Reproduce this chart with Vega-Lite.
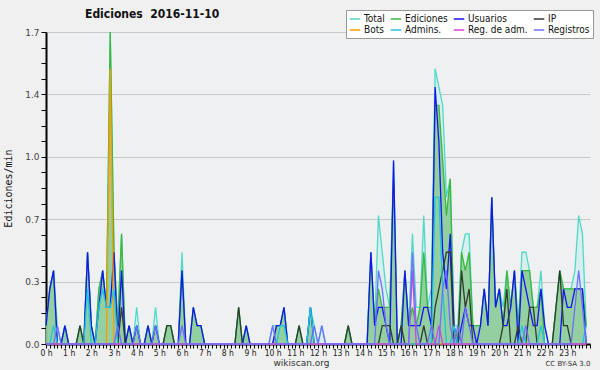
{
"$schema":"https://vega.github.io/schema/vega-lite/v6.json",
"width":544,"height":312,"autosize":"none",
"padding":{"left":46,"top":32,"right":10,"bottom":26},
"background":"#f0f0f0",
"config":{"view":{"fill":"#eef0f2","stroke":null},"font":"DejaVu Sans"},
"title":{"text":"Ediciones \u00a02016-11-10","anchor":"start","frame":"group","dx":39,"offset":-11,"fontSize":12,"fontWeight":"bold","color":"#111","font":"DejaVu Sans Condensed, DejaVu Sans"},
"data":{"values":[
{"m":0,"T":0.1,"E":0.1,"U":0.1,"I":0,"B":0,"A":0,"M":0,"R":0},
{"m":10,"T":0.3,"E":0.3,"U":0.3,"I":0,"B":0,"A":0,"M":0,"R":0},
{"m":20,"T":0.4,"E":0.4,"U":0.4,"I":0,"B":0,"A":0.1,"M":0,"R":0},
{"m":30,"T":0.1,"E":0,"U":0,"I":0,"B":0,"A":0,"M":0,"R":0.1},
{"m":40,"T":0,"E":0,"U":0,"I":0,"B":0,"A":0,"M":0,"R":0},
{"m":50,"T":0.1,"E":0.1,"U":0.1,"I":0,"B":0,"A":0,"M":0,"R":0},
{"m":60,"T":0,"E":0,"U":0,"I":0,"B":0,"A":0,"M":0,"R":0},
{"m":70,"T":0,"E":0,"U":0,"I":0,"B":0,"A":0,"M":0,"R":0},
{"m":80,"T":0,"E":0,"U":0,"I":0,"B":0,"A":0,"M":0,"R":0},
{"m":90,"T":0.1,"E":0.1,"U":0,"I":0.1,"B":0,"A":0,"M":0,"R":0},
{"m":100,"T":0,"E":0,"U":0,"I":0,"B":0,"A":0,"M":0,"R":0},
{"m":110,"T":0.5,"E":0.5,"U":0.5,"I":0,"B":0,"A":0.3,"M":0,"R":0},
{"m":120,"T":0.1,"E":0.1,"U":0.1,"I":0,"B":0,"A":0,"M":0,"R":0},
{"m":130,"T":0,"E":0,"U":0,"I":0,"B":0,"A":0,"M":0,"R":0},
{"m":140,"T":0.3,"E":0.3,"U":0.2,"I":0,"B":0,"A":0.2,"M":0,"R":0},
{"m":150,"T":0.4,"E":0.4,"U":0.4,"I":0,"B":0,"A":0.3,"M":0,"R":0},
{"m":160,"T":0.2,"E":0.2,"U":0.2,"I":0,"B":0,"A":0.2,"M":0,"R":0},
{"m":170,"T":1.7,"E":1.7,"U":0.2,"I":0,"B":1.5,"A":0.2,"M":0,"R":0},
{"m":180,"T":0.5,"E":0.5,"U":0.5,"I":0,"B":0,"A":0.3,"M":0,"R":0},
{"m":190,"T":0.1,"E":0.1,"U":0,"I":0,"B":0,"A":0,"M":0,"R":0.1},
{"m":200,"T":0.6,"E":0.6,"U":0.4,"I":0.2,"B":0,"A":0,"M":0,"R":0},
{"m":210,"T":0,"E":0,"U":0,"I":0,"B":0,"A":0,"M":0,"R":0},
{"m":220,"T":0.1,"E":0.1,"U":0.1,"I":0,"B":0,"A":0,"M":0,"R":0},
{"m":230,"T":0,"E":0,"U":0,"I":0,"B":0,"A":0,"M":0,"R":0},
{"m":240,"T":0.2,"E":0.1,"U":0.1,"I":0,"B":0,"A":0,"M":0,"R":0.1},
{"m":250,"T":0,"E":0,"U":0,"I":0,"B":0,"A":0,"M":0,"R":0},
{"m":260,"T":0,"E":0,"U":0,"I":0,"B":0,"A":0,"M":0,"R":0},
{"m":270,"T":0.1,"E":0.1,"U":0.1,"I":0,"B":0,"A":0,"M":0,"R":0},
{"m":280,"T":0,"E":0,"U":0,"I":0,"B":0,"A":0,"M":0,"R":0},
{"m":290,"T":0.2,"E":0.1,"U":0.1,"I":0,"B":0,"A":0,"M":0,"R":0.1},
{"m":300,"T":0,"E":0,"U":0,"I":0,"B":0,"A":0,"M":0,"R":0},
{"m":310,"T":0,"E":0,"U":0,"I":0,"B":0,"A":0,"M":0,"R":0},
{"m":320,"T":0.1,"E":0.1,"U":0,"I":0.1,"B":0,"A":0,"M":0,"R":0},
{"m":330,"T":0.1,"E":0.1,"U":0,"I":0.1,"B":0,"A":0,"M":0,"R":0},
{"m":340,"T":0,"E":0,"U":0,"I":0,"B":0,"A":0,"M":0,"R":0},
{"m":350,"T":0,"E":0,"U":0,"I":0,"B":0,"A":0,"M":0,"R":0},
{"m":360,"T":0.5,"E":0.4,"U":0.4,"I":0,"B":0,"A":0,"M":0,"R":0.1},
{"m":370,"T":0,"E":0,"U":0,"I":0,"B":0,"A":0,"M":0,"R":0},
{"m":380,"T":0,"E":0,"U":0,"I":0,"B":0,"A":0,"M":0,"R":0},
{"m":390,"T":0.2,"E":0.2,"U":0.2,"I":0,"B":0,"A":0,"M":0,"R":0},
{"m":400,"T":0.1,"E":0.1,"U":0.1,"I":0,"B":0,"A":0,"M":0,"R":0},
{"m":410,"T":0.1,"E":0.1,"U":0.1,"I":0,"B":0,"A":0,"M":0,"R":0},
{"m":420,"T":0,"E":0,"U":0,"I":0,"B":0,"A":0,"M":0,"R":0},
{"m":430,"T":0,"E":0,"U":0,"I":0,"B":0,"A":0,"M":0,"R":0},
{"m":440,"T":0,"E":0,"U":0,"I":0,"B":0,"A":0,"M":0,"R":0},
{"m":450,"T":0,"E":0,"U":0,"I":0,"B":0,"A":0,"M":0,"R":0},
{"m":460,"T":0,"E":0,"U":0,"I":0,"B":0,"A":0,"M":0,"R":0},
{"m":470,"T":0,"E":0,"U":0,"I":0,"B":0,"A":0,"M":0,"R":0},
{"m":480,"T":0,"E":0,"U":0,"I":0,"B":0,"A":0,"M":0,"R":0},
{"m":490,"T":0,"E":0,"U":0,"I":0,"B":0,"A":0,"M":0,"R":0},
{"m":500,"T":0,"E":0,"U":0,"I":0,"B":0,"A":0,"M":0,"R":0},
{"m":510,"T":0.2,"E":0.2,"U":0,"I":0.2,"B":0,"A":0,"M":0,"R":0},
{"m":520,"T":0,"E":0,"U":0,"I":0,"B":0,"A":0,"M":0,"R":0},
{"m":530,"T":0.1,"E":0.1,"U":0.1,"I":0,"B":0,"A":0,"M":0,"R":0},
{"m":540,"T":0,"E":0,"U":0,"I":0,"B":0,"A":0,"M":0,"R":0},
{"m":550,"T":0,"E":0,"U":0,"I":0,"B":0,"A":0,"M":0,"R":0},
{"m":560,"T":0,"E":0,"U":0,"I":0,"B":0,"A":0,"M":0,"R":0},
{"m":570,"T":0,"E":0,"U":0,"I":0,"B":0,"A":0,"M":0,"R":0},
{"m":580,"T":0,"E":0,"U":0,"I":0,"B":0,"A":0,"M":0,"R":0},
{"m":590,"T":0,"E":0,"U":0,"I":0,"B":0,"A":0,"M":0,"R":0},
{"m":600,"T":0.1,"E":0,"U":0,"I":0,"B":0,"A":0,"M":0,"R":0.1},
{"m":610,"T":0.1,"E":0.1,"U":0.1,"I":0,"B":0,"A":0,"M":0,"R":0},
{"m":620,"T":0.1,"E":0.1,"U":0.1,"I":0,"B":0,"A":0.1,"M":0,"R":0},
{"m":630,"T":0.2,"E":0.2,"U":0.2,"I":0,"B":0,"A":0.1,"M":0,"R":0},
{"m":640,"T":0,"E":0,"U":0,"I":0,"B":0,"A":0,"M":0,"R":0},
{"m":650,"T":0,"E":0,"U":0,"I":0,"B":0,"A":0,"M":0,"R":0},
{"m":660,"T":0,"E":0,"U":0,"I":0,"B":0,"A":0,"M":0,"R":0},
{"m":670,"T":0.1,"E":0.1,"U":0,"I":0.1,"B":0,"A":0,"M":0,"R":0},
{"m":680,"T":0,"E":0,"U":0,"I":0,"B":0,"A":0,"M":0,"R":0},
{"m":690,"T":0,"E":0,"U":0,"I":0,"B":0,"A":0,"M":0,"R":0},
{"m":700,"T":0.2,"E":0.2,"U":0.2,"I":0,"B":0,"A":0.2,"M":0,"R":0},
{"m":710,"T":0.1,"E":0,"U":0,"I":0,"B":0,"A":0,"M":0,"R":0.1},
{"m":720,"T":0,"E":0,"U":0,"I":0,"B":0,"A":0,"M":0,"R":0},
{"m":730,"T":0.1,"E":0,"U":0,"I":0,"B":0,"A":0,"M":0,"R":0.1},
{"m":740,"T":0,"E":0,"U":0,"I":0,"B":0,"A":0,"M":0,"R":0},
{"m":750,"T":0,"E":0,"U":0,"I":0,"B":0,"A":0,"M":0,"R":0},
{"m":760,"T":0,"E":0,"U":0,"I":0,"B":0,"A":0,"M":0,"R":0},
{"m":770,"T":0,"E":0,"U":0,"I":0,"B":0,"A":0,"M":0,"R":0},
{"m":780,"T":0,"E":0,"U":0,"I":0,"B":0,"A":0,"M":0,"R":0},
{"m":790,"T":0,"E":0,"U":0,"I":0,"B":0,"A":0,"M":0,"R":0},
{"m":800,"T":0.1,"E":0.1,"U":0,"I":0.1,"B":0,"A":0,"M":0,"R":0},
{"m":810,"T":0,"E":0,"U":0,"I":0,"B":0,"A":0,"M":0,"R":0},
{"m":820,"T":0,"E":0,"U":0,"I":0,"B":0,"A":0,"M":0,"R":0},
{"m":830,"T":0,"E":0,"U":0,"I":0,"B":0,"A":0,"M":0,"R":0},
{"m":840,"T":0,"E":0,"U":0,"I":0,"B":0,"A":0,"M":0,"R":0},
{"m":850,"T":0,"E":0,"U":0,"I":0,"B":0,"A":0,"M":0,"R":0},
{"m":860,"T":0.5,"E":0.5,"U":0.5,"I":0,"B":0,"A":0,"M":0,"R":0},
{"m":870,"T":0.1,"E":0.1,"U":0.1,"I":0,"B":0,"A":0,"M":0,"R":0},
{"m":880,"T":0.7,"E":0.3,"U":0.2,"I":0,"B":0,"A":0,"M":0,"R":0.4},
{"m":890,"T":0.5,"E":0.2,"U":0.2,"I":0.1,"B":0,"A":0,"M":0,"R":0.3},
{"m":900,"T":0.3,"E":0.2,"U":0.1,"I":0.1,"B":0,"A":0,"M":0,"R":0.1},
{"m":910,"T":0.2,"E":0.2,"U":0,"I":0.1,"B":0,"A":0,"M":0,"R":0},
{"m":920,"T":1.0,"E":0.9,"U":1.0,"I":0,"B":0,"A":0,"M":0,"R":0},
{"m":930,"T":0,"E":0,"U":0,"I":0,"B":0,"A":0,"M":0,"R":0},
{"m":940,"T":0.1,"E":0.1,"U":0,"I":0.1,"B":0,"A":0,"M":0,"R":0},
{"m":950,"T":0.4,"E":0.4,"U":0.4,"I":0,"B":0,"A":0,"M":0,"R":0},
{"m":960,"T":0.1,"E":0.1,"U":0.1,"I":0,"B":0,"A":0,"M":0,"R":0},
{"m":970,"T":0.6,"E":0.2,"U":0.1,"I":0,"B":0,"A":0,"M":0.4,"R":0.5},
{"m":980,"T":0.2,"E":0.1,"U":0.1,"I":0,"B":0,"A":0,"M":0,"R":0.1},
{"m":990,"T":0.2,"E":0.2,"U":0.1,"I":0,"B":0,"A":0,"M":0,"R":0},
{"m":1000,"T":0.7,"E":0.5,"U":0.2,"I":0.1,"B":0,"A":0,"M":0,"R":0},
{"m":1010,"T":0.2,"E":0.2,"U":0.2,"I":0,"B":0,"A":0,"M":0,"R":0},
{"m":1020,"T":0.3,"E":0.2,"U":0.1,"I":0,"B":0,"A":0,"M":0,"R":0.1},
{"m":1030,"T":1.5,"E":1.3,"U":1.4,"I":0.2,"B":0,"A":0.8,"M":0,"R":0},
{"m":1040,"T":1.4,"E":1.3,"U":1.1,"I":0.3,"B":0,"A":0.8,"M":0.1,"R":0},
{"m":1050,"T":1.3,"E":1.0,"U":0.5,"I":0.4,"B":0,"A":0.3,"M":0,"R":0.3},
{"m":1060,"T":0.8,"E":0.7,"U":0.3,"I":0.5,"B":0,"A":0,"M":0,"R":0.4},
{"m":1070,"T":0.9,"E":0.9,"U":0.6,"I":0.5,"B":0,"A":0,"M":0,"R":0.1},
{"m":1080,"T":0.1,"E":0.1,"U":0.1,"I":0,"B":0,"A":0.1,"M":0,"R":0},
{"m":1090,"T":0.1,"E":0,"U":0,"I":0,"B":0,"A":0,"M":0,"R":0.1},
{"m":1100,"T":0.5,"E":0.5,"U":0.1,"I":0.4,"B":0,"A":0,"M":0,"R":0},
{"m":1110,"T":0.6,"E":0.4,"U":0.2,"I":0.2,"B":0,"A":0,"M":0,"R":0.2},
{"m":1120,"T":0.6,"E":0.5,"U":0.1,"I":0.3,"B":0,"A":0,"M":0,"R":0.1},
{"m":1130,"T":0.1,"E":0.1,"U":0.1,"I":0,"B":0,"A":0,"M":0,"R":0},
{"m":1140,"T":0.1,"E":0.1,"U":0,"I":0,"B":0,"A":0,"M":0,"R":0},
{"m":1150,"T":0.1,"E":0.1,"U":0.1,"I":0,"B":0,"A":0,"M":0,"R":0},
{"m":1160,"T":0.3,"E":0.3,"U":0.3,"I":0,"B":0,"A":0,"M":0,"R":0},
{"m":1170,"T":0.1,"E":0.1,"U":0.1,"I":0,"B":0,"A":0,"M":0,"R":0},
{"m":1180,"T":0.8,"E":0.8,"U":0.8,"I":0,"B":0,"A":0,"M":0,"R":0},
{"m":1190,"T":0.2,"E":0.2,"U":0.2,"I":0,"B":0,"A":0,"M":0,"R":0},
{"m":1200,"T":0.3,"E":0.3,"U":0.3,"I":0,"B":0,"A":0,"M":0,"R":0},
{"m":1210,"T":0.2,"E":0.1,"U":0.1,"I":0.1,"B":0,"A":0,"M":0,"R":0},
{"m":1220,"T":0.4,"E":0.4,"U":0.1,"I":0.3,"B":0,"A":0,"M":0,"R":0},
{"m":1230,"T":0.2,"E":0.2,"U":0.2,"I":0,"B":0,"A":0,"M":0,"R":0},
{"m":1240,"T":0.4,"E":0.4,"U":0.4,"I":0,"B":0,"A":0,"M":0,"R":0},
{"m":1250,"T":0.1,"E":0.1,"U":0,"I":0.1,"B":0,"A":0,"M":0,"R":0},
{"m":1260,"T":0.5,"E":0.4,"U":0.4,"I":0,"B":0,"A":0.1,"M":0,"R":0},
{"m":1270,"T":0.5,"E":0.4,"U":0.3,"I":0,"B":0,"A":0,"M":0,"R":0.1},
{"m":1280,"T":0.4,"E":0.4,"U":0.2,"I":0.2,"B":0,"A":0,"M":0,"R":0},
{"m":1290,"T":0.2,"E":0.2,"U":0.1,"I":0.2,"B":0,"A":0,"M":0,"R":0},
{"m":1300,"T":0.2,"E":0.2,"U":0.1,"I":0,"B":0,"A":0,"M":0,"R":0},
{"m":1310,"T":0.4,"E":0.3,"U":0.3,"I":0,"B":0,"A":0.1,"M":0,"R":0},
{"m":1320,"T":0.1,"E":0,"U":0.1,"I":0,"B":0,"A":0,"M":0,"R":0},
{"m":1330,"T":0,"E":0,"U":0,"I":0,"B":0,"A":0,"M":0,"R":0},
{"m":1340,"T":0,"E":0,"U":0,"I":0,"B":0,"A":0,"M":0,"R":0},
{"m":1350,"T":0.2,"E":0.2,"U":0,"I":0.2,"B":0,"A":0,"M":0,"R":0},
{"m":1360,"T":0.4,"E":0.4,"U":0,"I":0.4,"B":0,"A":0,"M":0,"R":0},
{"m":1370,"T":0.3,"E":0.3,"U":0.3,"I":0.1,"B":0,"A":0,"M":0,"R":0},
{"m":1380,"T":0.3,"E":0.3,"U":0.2,"I":0.1,"B":0,"A":0,"M":0,"R":0},
{"m":1390,"T":0.3,"E":0.3,"U":0.2,"I":0,"B":0,"A":0,"M":0,"R":0},
{"m":1400,"T":0.4,"E":0.3,"U":0.3,"I":0,"B":0,"A":0,"M":0,"R":0.2},
{"m":1410,"T":0.7,"E":0.3,"U":0.3,"I":0,"B":0,"A":0,"M":0,"R":0.4},
{"m":1420,"T":0.6,"E":0.3,"U":0.3,"I":0,"B":0,"A":0,"M":0,"R":0.2},
{"m":1430,"T":0.1,"E":0.1,"U":0,"I":0,"B":0,"A":0.1,"M":0,"R":0}
]},
"layer":[
{"mark":{"type":"area","color":"#cdeeec","opacity":0.7,"line":false},
 "encoding":{
  "x":{"field":"m","type":"quantitative","scale":{"domain":[0,1440],"nice":false,"zero":false},
   "axis":{"orient":"bottom","tickCount":144,"labelExpr":"datum.value % 60 == 0 && datum.value < 1440 ? (datum.value/60) + ' h' : ''","labelOverlap":false,"labelBound":false,"labelFlush":false,"grid":false,"domainColor":"#000","domainWidth":2,"tickColor":"#000","tickSize":4,"tickWidth":1,"labelFontSize":8.5,"labelColor":"#222","labelPadding":0,"labelFont":"DejaVu Sans Condensed, DejaVu Sans",
    "title":"wikiscan.org","titleX":255,"titleY":18,"titleAlign":"center","titleBaseline":"middle","titleFontSize":9,"titleFontWeight":"normal","titleColor":"#333","titleFont":"DejaVu Sans"}},
  "y":{"field":"T","type":"quantitative","scale":{"domain":[0,1.7],"nice":false},
   "axis":{"values":[0,0.085,0.17,0.255,0.34,0.425,0.51,0.595,0.68,0.765,0.85,0.935,1.02,1.105,1.19,1.275,1.36,1.445,1.53,1.615,1.7],
    "labelExpr":"abs(datum.value/0.34 - round(datum.value/0.34)) < 0.01 ? format(datum.value,'.1f') : ''",
    "gridOpacity":{"condition":{"test":"abs(datum.value/0.34 - round(datum.value/0.34)) < 0.01","value":1},"value":0},
    "gridColor":"#c8c8c8","gridWidth":1,"domainColor":"#000","domainWidth":2,"tickColor":"#000","tickSize":5,"labelFontSize":9,"labelColor":"#444","labelPadding":2,"labelOverlap":false,"labelFont":"DejaVu Sans",
    "title":"Ediciones/min","titleFont":"DejaVu Sans Mono","titleFontSize":10,"titleFontWeight":"normal","titleColor":"#111","titleX":-33,"titleY":156,"titleAngle":270,"titleAlign":"center","titleBaseline":"bottom"}}
 }},
{"mark":{"type":"area","color":"#7cc486","opacity":0.75},
 "encoding":{
  "x":{"field":"m","type":"quantitative","axis":null},
  "y":{"field":"E","type":"quantitative","axis":null}
 }},
{"transform":[{"fold":["T","E","U","I","B","A","M","R"],"as":["k","v"]}],
 "mark":{"type":"line","strokeWidth":1.3},
 "encoding":{
  "x":{"field":"m","type":"quantitative",
   "axis":{"orient":"bottom","title":"CC BY-SA 3.0","domain":false,"ticks":false,"labels":false,"grid":false,"titleX":544,"titleY":19,"titleAlign":"right","titleBaseline":"middle","titleFontSize":7,"titleFontWeight":"normal","titleColor":"#333","titleFont":"DejaVu Sans"}},
  "y":{"field":"v","type":"quantitative","axis":null},
  "color":{"field":"k","type":"nominal",
   "scale":{"domain":["T","E","U","I","B","A","M","R"],"range":["#52d8c8","#3cb83c","#1414f0","#303a30","#ff9a00","#20c4e0","#d840d8","#6e6eff"]},
   "legend":{"title":null,"orient":"none","legendX":300,"legendY":-22,"columns":4,"direction":"horizontal","symbolType":"stroke","symbolSize":110,"symbolStrokeWidth":1.5,"labelFontSize":10,"labelFont":"DejaVu Sans Condensed, DejaVu Sans","labelColor":"#111","labelOffset":3,"columnPadding":2,"rowPadding":0,"padding":3,"fillColor":"#ffffff","strokeColor":"#999999",
    "labelExpr":"{'T':'Total','E':'Ediciones','U':'Usuarios','I':'IP','B':'Bots','A':'Admins.','M':'Reg. de adm.','R':'Registros'}[datum.value]"}}
 }}
],
"resolve":{"axis":{"x":"independent","y":"independent"}}
}
